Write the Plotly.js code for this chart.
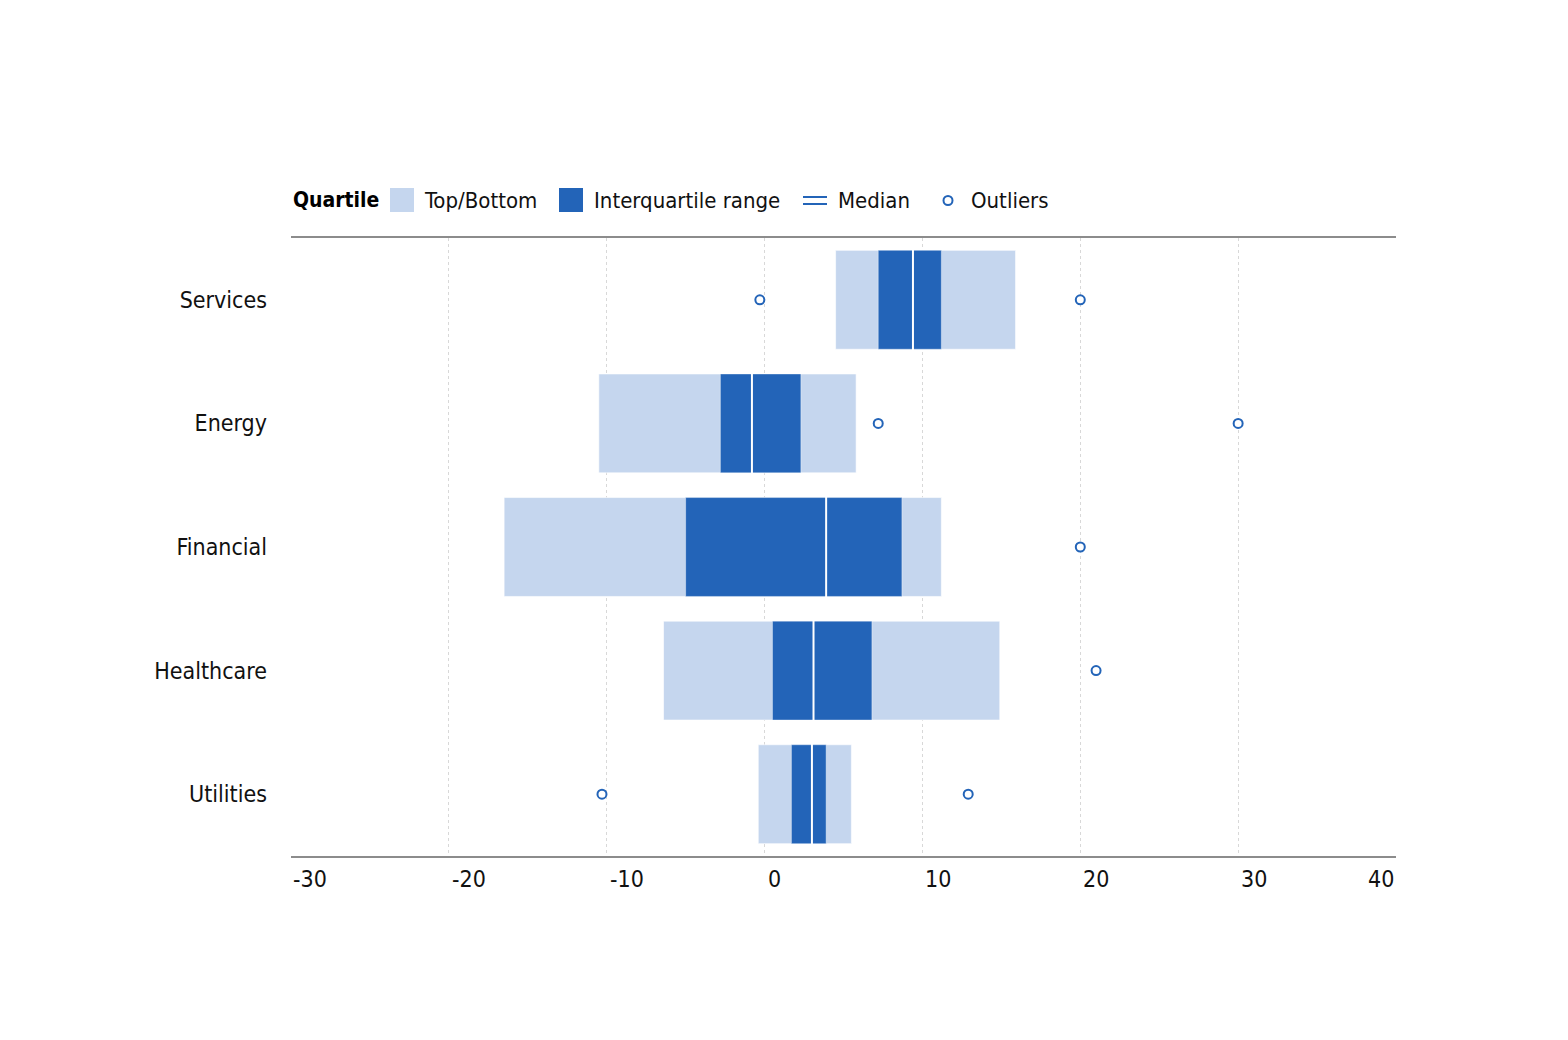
<!DOCTYPE html>
<html>
<head>
<meta charset="utf-8">
<script src="https://cdn.plot.ly/plotly-3.0.1.min.js"></script>
<style>html,body{margin:0;padding:0;background:#fff;}</style>
</head>
<body>
<div id="chart" style="width:1568px;height:1040px;"></div>
<script>
// ---- Data ----
const categories = ['Services', 'Energy', 'Financial', 'Healthcare', 'Utilities'];
const minVals    = [4.5, -10.5, -16.5, -6.4, -0.4];
const maxVals    = [15.9, 5.8, 11.2, 14.9, 5.5];
const q1Vals     = [7.2, -2.8, -5.0, 0.5, 1.7];
const q3Vals     = [11.2, 2.3, 8.7, 6.8, 3.9];
const medianVals = [9.4, -0.8, 3.9, 3.1, 3.0];
const outlierCats = ['Services', 'Services', 'Energy', 'Energy', 'Financial', 'Healthcare', 'Utilities', 'Utilities'];
const outlierVals = [-0.3, 20.0, 7.2, 30.0, 20.0, 21.0, -10.3, 12.9];
const xTicks = [-30, -20, -10, 0, 10, 20, 30, 40];
const xTickLabels = ['-30', '-20', '-10', '0', '10', '20', '30', '40'];
const legendTitle = 'Quartile';
const legendLabels = ['Top/Bottom', 'Interquartile range', 'Median', 'Outliers'];

// ---- Style ----
const FONT = '"DejaVu Sans Condensed", "Liberation Sans Narrow", "Roboto", sans-serif';
const LIGHT = '#c5d6ee';
const DARK = '#2364b8';
const TEXT = '#111111';
const FS = 23;

const traces = [
  {
    type: 'bar', orientation: 'h', y: categories,
    base: minVals, x: maxVals.map((v, i) => v - minVals[i]),
    marker: { color: LIGHT, line: { color: 'rgba(255,255,255,0.6)', width: 1 } },
    hoverinfo: 'skip', showlegend: false
  },
  {
    type: 'bar', orientation: 'h', y: categories,
    base: q1Vals, x: q3Vals.map((v, i) => v - q1Vals[i]),
    marker: { color: DARK, line: { color: 'rgba(255,255,255,0.4)', width: 1 } },
    hoverinfo: 'skip', showlegend: false
  },
  {
    type: 'scatter', mode: 'markers', y: categories, x: medianVals,
    marker: { symbol: 'line-ns', size: 98, color: '#ffffff', line: { color: '#ffffff', width: 2 } },
    hoverinfo: 'skip', showlegend: false
  },
  {
    type: 'scatter', mode: 'markers', y: outlierCats, x: outlierVals,
    marker: { symbol: 'circle', size: 9, color: '#ffffff', line: { color: DARK, width: 2 } },
    hoverinfo: 'skip', showlegend: false
  }
];

// Plot area geometry in pixels
const L = 291, T = 238;

const annotations = [];
xTicks.forEach((v, i) => {
  const last = i === xTicks.length - 1;
  annotations.push({
    x: v, xref: 'x', y: 0, yref: 'paper', yshift: -23,
    xanchor: last ? 'right' : 'left', yanchor: 'middle',
    xshift: last ? 0 : (i === 0 ? 0 : 1),
    text: xTickLabels[i], showarrow: false,
    font: { family: FONT, size: FS, color: TEXT }
  });
});

// Legend (manual)
const legendY = 38; // px above plot top
annotations.push({
  x: 0, xref: 'paper', y: 1, yref: 'paper', yshift: legendY, xanchor: 'left', yanchor: 'middle',
  text: '<b>' + legendTitle + '</b>', showarrow: false,
  font: { family: FONT, size: 21, color: '#000' }
});
const legendTextX = [422, 592, 836, 969];
legendLabels.forEach((t, i) => {
  annotations.push({
    x: 0, xref: 'paper', xshift: legendTextX[i] - L, y: 1, yref: 'paper', yshift: legendY,
    xanchor: 'left', yanchor: 'middle', text: t, showarrow: false,
    font: { family: FONT, size: 22, color: TEXT }
  });
});

function pshape(type, x0, x1, y0, y1, extra) {
  return Object.assign({
    type: type, xref: 'paper', yref: 'paper', xsizemode: 'pixel', ysizemode: 'pixel',
    xanchor: 0, yanchor: 1,
    x0: x0 - L, x1: x1 - L, y0: T - y1, y1: T - y0
  }, extra);
}

const shapes = [
  pshape('rect', 390, 414, 188, 212, { fillcolor: LIGHT, line: { width: 0 } }),
  pshape('rect', 559, 583, 188, 212, { fillcolor: DARK, line: { width: 0 } }),
  pshape('line', 803, 827, 197, 197, { line: { color: DARK, width: 2 } }),
  pshape('line', 803, 827, 204, 204, { line: { color: DARK, width: 2 } }),
  pshape('circle', 943.5, 952.5, 196, 205, { fillcolor: '#ffffff', line: { color: DARK, width: 2 } })
];

const layout = {
  width: 1568, height: 1040,
  margin: { l: L, r: 172, t: T, b: 184, pad: 0 },
  paper_bgcolor: '#ffffff', plot_bgcolor: '#ffffff',
  barmode: 'overlay', bargap: 0.2,
  showlegend: false,
  font: { family: FONT, size: FS, color: TEXT },
  xaxis: {
    range: [-30, 40], autorange: false, tickvals: xTicks, showticklabels: false, ticks: '',
    showgrid: true, gridcolor: '#d8d8d8', gridwidth: 1, griddash: 'dot',
    showline: true, linecolor: '#8c8c8c', linewidth: 2, mirror: true,
    zeroline: false, fixedrange: true
  },
  yaxis: {
    type: 'category', categoryorder: 'array', categoryarray: categories,
    range: [4.5, -0.5], autorange: false,
    showgrid: false, zeroline: false, showline: false,
    ticks: '', ticklabelstandoff: 23,
    tickfont: { family: FONT, size: FS, color: TEXT }, fixedrange: true
  },
  annotations: annotations,
  shapes: shapes
};

Plotly.newPlot('chart', traces, layout, { displayModeBar: false, staticPlot: true });
</script>
</body>
</html>
